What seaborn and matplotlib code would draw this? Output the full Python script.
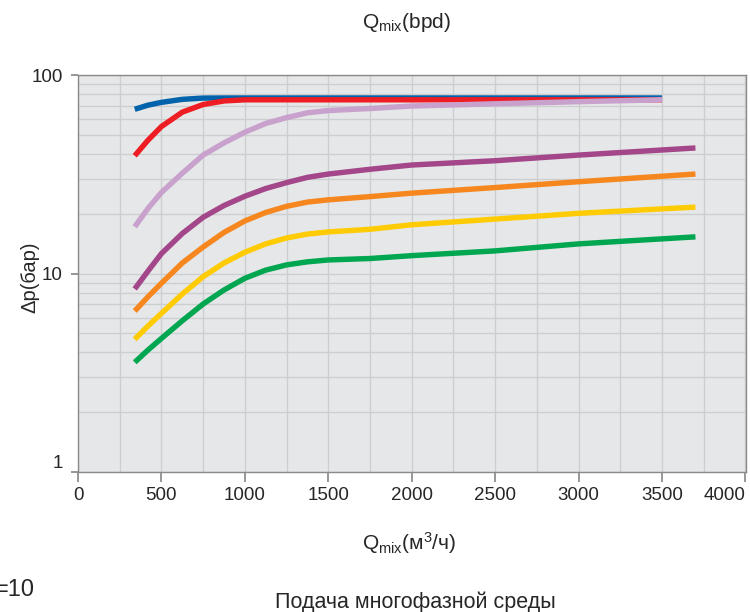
import numpy as np
import matplotlib
matplotlib.use("Agg")
import matplotlib.pyplot as plt
from matplotlib.ticker import LogLocator, MultipleLocator, FixedLocator
import seaborn as sns

# flow rate, m3/h
x_short = [340, 420, 500, 625, 750, 875, 1000, 1125, 1250, 1375, 1500, 1750, 2000, 2500, 3000, 3500]
x_long = [340, 420, 500, 625, 750, 875, 1000, 1125, 1250, 1375, 1500, 1750, 2000, 2500, 3000, 3700]

# differential pressure, bar
blue = [67.2, 70.5, 72.8, 75.4, 76.5, 76.6, 76.6, 76.6, 76.6, 76.6, 76.6, 76.6, 76.6, 76.6, 76.6, 76.6]
red = [39.2, 47.0, 55.0, 65.0, 71.0, 74.0, 75.0, 75.0, 75.0, 75.0, 75.0, 75.0, 75.0, 75.0, 75.0, 75.0]
lilac = [17.2, 21.3, 25.6, 32.0, 39.5, 45.5, 51.5, 57.0, 61.0, 64.5, 66.2, 67.8, 69.8, 71.6, 73.4, 75.0]
purple = [8.36, 10.3, 12.6, 15.9, 19.2, 22.0, 24.5, 26.8, 28.7, 30.5, 31.7, 33.5, 35.2, 37.0, 39.5, 42.9]
orange = [6.47, 7.64, 8.93, 11.3, 13.6, 16.1, 18.4, 20.3, 21.8, 22.9, 23.5, 24.4, 25.4, 27.1, 29.0, 31.7]
yellow = [4.66, 5.44, 6.3, 7.88, 9.64, 11.3, 12.8, 14.1, 15.1, 15.8, 16.2, 16.7, 17.6, 18.8, 20.1, 21.6]
green = [3.57, 4.12, 4.71, 5.78, 7.02, 8.26, 9.46, 10.4, 11.05, 11.45, 11.7, 11.9, 12.3, 13.0, 14.1, 15.3]

x_ticks = [0, 500, 1000, 1500, 2000, 2500, 3000, 3500, 4000]
y_ticks = [1, 10, 100]

series = [
    (x_short, blue, "#0063ac"),
    (x_short, red, "#ee1d24"),
    (x_short, lilac, "#c9a1cd"),
    (x_long, purple, "#a3468a"),
    (x_long, orange, "#f6871f"),
    (x_long, yellow, "#ffcb05"),
    (x_long, green, "#00a650"),
]

sns.set_theme(style="ticks")
plt.rcParams['font.family'] = ['Liberation Sans', 'DejaVu Sans']
plt.rcParams['mathtext.default'] = 'regular'

fig = plt.figure(figsize=(7.5, 6.12), dpi=100)
ax = fig.add_axes([78 / 750, 1 - 472 / 612, 668 / 750, 397 / 612])
ax.set_facecolor("#e6e7e8")

for xs, ys, col in series:
    sns.lineplot(x=xs, y=ys, color=col, lw=3.9, ax=ax, solid_capstyle="butt",
                 legend=False, zorder=3)

ax.set_yscale("log")
ax.set_xlim(0, 4003)
ax.set_ylim(1, 100)

ax.xaxis.set_minor_locator(MultipleLocator(250))
ax.yaxis.set_minor_locator(LogLocator(base=10, subs=np.arange(2, 10)))
ax.yaxis.set_minor_formatter(plt.NullFormatter())
ax.set_xticks(x_ticks)
xlabels = ax.set_xticklabels([str(t) for t in x_ticks])
xlabels[-1].set_ha("right")
ax.set_yticks(y_ticks)
ylabels = ax.set_yticklabels([str(t) for t in y_ticks])
ylabels[0].set_va("bottom")

ax.grid(which="both", color="#cdced0", lw=1.0, zorder=0)
ax.set_axisbelow(True)
for s in ax.spines.values():
    s.set_color("#8a8a8a")
    s.set_linewidth(1.0)

ax.tick_params(axis="x", which="major", length=7, color="#8a8a8a", labelsize=13.5, pad=4)
ax.tick_params(axis="y", which="major", length=5, color="#8a8a8a", labelsize=13.5, pad=6)
ax.tick_params(which="minor", length=0)

ax.set_xlabel("")
ax.set_ylabel("")

fig.text(407 / 750, 1 - 22 / 612, r"$Q_{mix}$(bpd)", ha="center", va="center", fontsize=15)
fig.text(409 / 750, 1 - 543 / 612, r"$Q_{mix}$(м$^{3}$/ч)", ha="center", va="center", fontsize=15)
fig.text(30 / 750, 1 - 277 / 612, "Δp(бар)", ha="center", va="center", rotation=90, fontsize=14.5)
fig.text(415 / 750, 1 - 602 / 612, "Подача многофазной среды", ha="center", va="center",
         fontsize=15.5)
fig.text(-5 / 750, 1 - 590 / 612, "=10", ha="left", va="center", fontsize=17)

fig.savefig("out.png", dpi=100, facecolor="white")
